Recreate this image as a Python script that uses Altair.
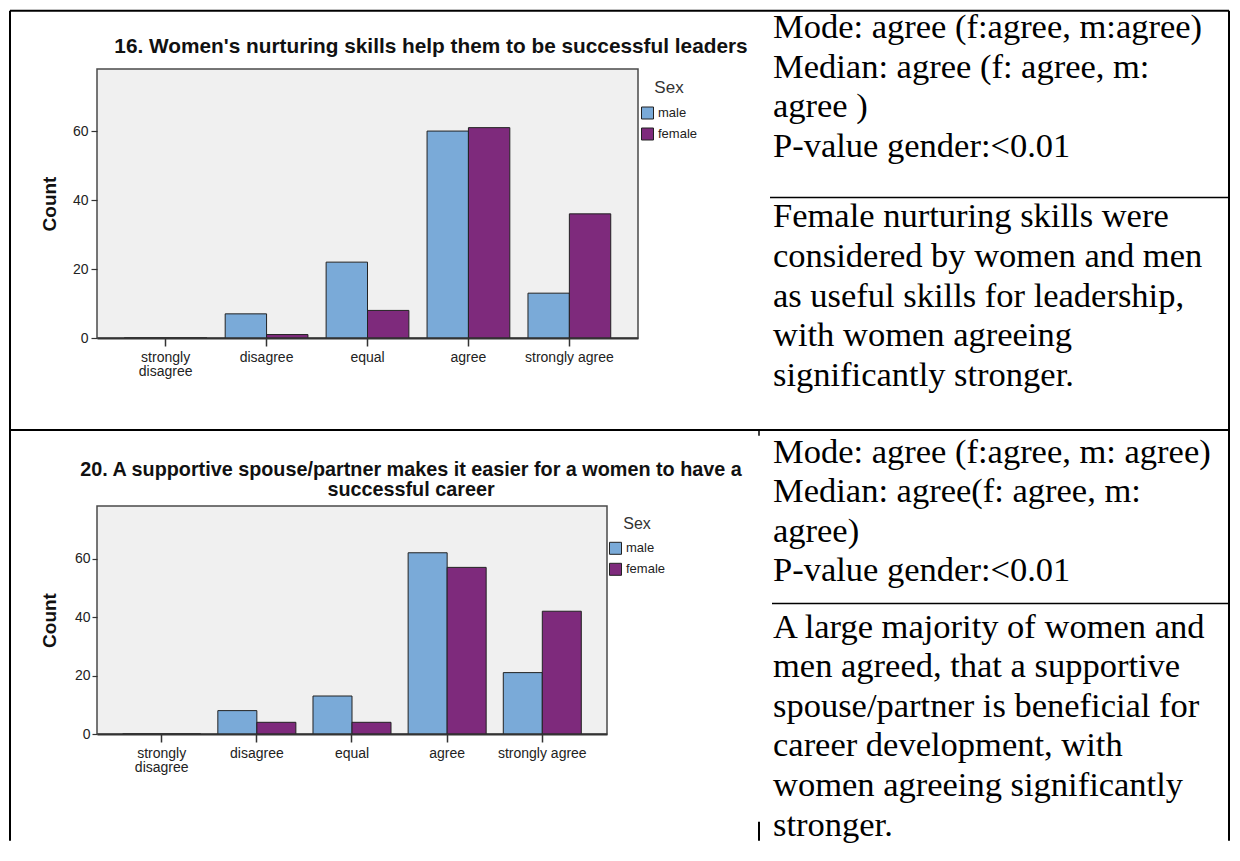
import altair as alt
import pandas as pd

# ---------------- data ----------------
categories = ["strongly disagree", "disagree", "equal", "agree", "strongly agree"]
sexes = ["male", "female"]
q16_male = [0, 7, 22, 60, 13]
q16_female = [0, 1, 8, 61, 36]
q20_male = [0, 8, 13, 62, 21]
q20_female = [0, 4, 4, 57, 42]
y_ticks = [0, 20, 40, 60]

q16_title = "16. Women's nurturing skills help them to be successful leaders"
q20_title = ["20. A supportive spouse/partner makes it easier for a women to have a",
             "successful career"]

q16_stats = ["Mode: agree (f:agree, m:agree)", "Median: agree (f: agree, m:",
             "agree )", "P-value gender:<0.01"]
q16_note = ["Female nurturing skills were", "considered by women and men",
            "as useful skills for leadership,", "with women agreeing",
            "significantly stronger."]
q20_stats = ["Mode: agree (f:agree, m: agree)", "Median: agree(f: agree, m:",
             "agree)", "P-value gender:<0.01"]
q20_note = ["A large majority of women and", "men agreed, that a supportive",
            "spouse/partner is beneficial for", "career development, with",
            "women agreeing significantly", "stronger."]

MALE = "#7AAAD8"
FEMALE = "#7E2A7C"
SANS = "Liberation Sans"
SERIF = "Liberation Serif"

# page position of the first plot's origin (used only for layout of table/text)
X0, Y0 = 97, 68.3


def table(answers, m, f):
    rows = []
    for c, a, b in zip(answers, m, f):
        rows.append({"answer": c, "sex": "male", "count": a})
        rows.append({"answer": c, "sex": "female", "count": b})
    return pd.DataFrame(rows)


one = pd.DataFrame({"k": [0]})


def bars(df, h, leg_x, leg_y, tick, lpad, leg_title_size):
    return alt.Chart(df).mark_bar(stroke="#222", strokeWidth=1).encode(
        x=alt.X("answer:N", sort=categories,
                scale=alt.Scale(paddingInner=0.18, paddingOuter=0.27),
                axis=alt.Axis(title=None, labelAngle=0, labelFont=SANS, labelFontSize=14,
                              labelColor="#222",
                              labelExpr="datum.label == 'strongly disagree' ? ['strongly', 'disagree'] : datum.label",
                              labelLineHeight=14.5, tickSize=8, tickColor="#333", tickWidth=1.5,
                              domainColor="#333", domainWidth=2, labelPadding=4, zindex=1)),
        xOffset=alt.XOffset("sex:N", sort=sexes, scale=alt.Scale(domain=sexes)),
        y=alt.Y("count:Q", scale=alt.Scale(domain=[0, 78], nice=False),
                axis=alt.Axis(title="Count", values=y_ticks, grid=False, domain=False,
                              tickSize=tick, tickColor="#333", tickWidth=1.2,
                              labelPadding=lpad, labelFont=SANS, labelFontSize=14,
                              labelColor="#222",
                              titleFont=SANS, titleFontSize=19, titleFontWeight="bold",
                              titleColor="#111", titleX=-48, titleY=h / 2, titleAngle=270,
                              titleAlign="center", titleBaseline="middle")),
        color=alt.Color("sex:N", sort=sexes,
                        scale=alt.Scale(domain=sexes, range=[MALE, FEMALE]),
                        legend=alt.Legend(orient="none", legendX=leg_x, legendY=leg_y,
                                          padding=0, title="Sex", titleFont=SANS,
                                          titleFontSize=leg_title_size, titleFontWeight="normal",
                                          titleColor="#333", titleAnchor="middle",
                                          titlePadding=10, symbolType="square",
                                          symbolSize=144, symbolStrokeColor="#222",
                                          symbolStrokeWidth=1, symbolOpacity=1,
                                          labelFont=SANS, labelFontSize=13,
                                          labelColor="#222", labelOffset=4, rowPadding=4)),
    )


def text_block(lines, x, y, size=34.5, font=SERIF, weight="normal", align="left", lh=39.6,
               color="#000"):
    return alt.Chart(one).mark_text(align=align, baseline="alphabetic", font=font,
                                    fontSize=size, fontWeight=weight, lineHeight=lh,
                                    color=color).encode(
        x=alt.value(x), y=alt.value(y), text=alt.value(lines))


def rule(x1, y1, x2, y2, w=1.5):
    return alt.Chart(one).mark_rule(color="#000", strokeWidth=w).encode(
        x=alt.value(x1 - X0), x2=alt.value(x2 - X0),
        y=alt.value(y1 - Y0), y2=alt.value(y2 - Y0))


W1, H1 = 541, 269
W2, H2 = 510, 228

bars1 = bars(table(categories, q16_male, q16_female), H1, 544, 10.5, 6, 3, 17)
bars2 = bars(table(categories, q20_male, q20_female), H2, 512, 9.8, 5, 2, 16)

title1 = text_block([q16_title], 334, -16, size=20.8, font=SANS, weight="bold",
                    align="center", color="#111")
title2 = text_block(q20_title, 314, -30, size=19.8, font=SANS, weight="bold",
                    align="center", lh=20, color="#111")

TX = 773 - X0
blockA = text_block(q16_stats, TX, 37.3 - Y0)
blockB = text_block(q16_note, TX, 226.7 - Y0)
blockC = text_block(q20_stats, TX, 462 - Y0)
blockD = text_block(q20_note, TX, 637 - Y0)

LEFT, TOP, RIGHT, BOTTOM = 10, 10, 1229, 840
lines = [
    rule(LEFT, TOP, RIGHT, TOP, 2),          # top border
    rule(LEFT, TOP, LEFT, BOTTOM, 2),        # left border
    rule(RIGHT, TOP, RIGHT, BOTTOM, 2),      # right border
    rule(LEFT, 429.3, RIGHT, 429.3, 2),      # row divider
    rule(770, 196.7, RIGHT, 196.7),          # inner divider row 1
    rule(772, 602.7, RIGHT, 602.7),          # inner divider row 2
    rule(759, 429.3, 759, 435),              # column stub
    rule(759, 821, 759, BOTTOM, 2),          # column stub bottom
]

c1 = alt.layer(bars1, title1, blockA, blockB, blockC, blockD, *lines).properties(
    width=W1, height=H1)
c2 = alt.layer(bars2, title2).properties(width=W2, height=H2)

chart = alt.vconcat(c1, c2, spacing=168, bounds="flush").resolve_scale(
    x="independent", y="independent", color="independent", xOffset="independent"
).resolve_legend(color="independent").configure_view(
    fill="#F0F0F0", stroke="#4a4a4a", strokeWidth=1.5
).properties(padding=0, background="white")

chart.save("out.html", embed_options={"renderer": "svg", "actions": False})
